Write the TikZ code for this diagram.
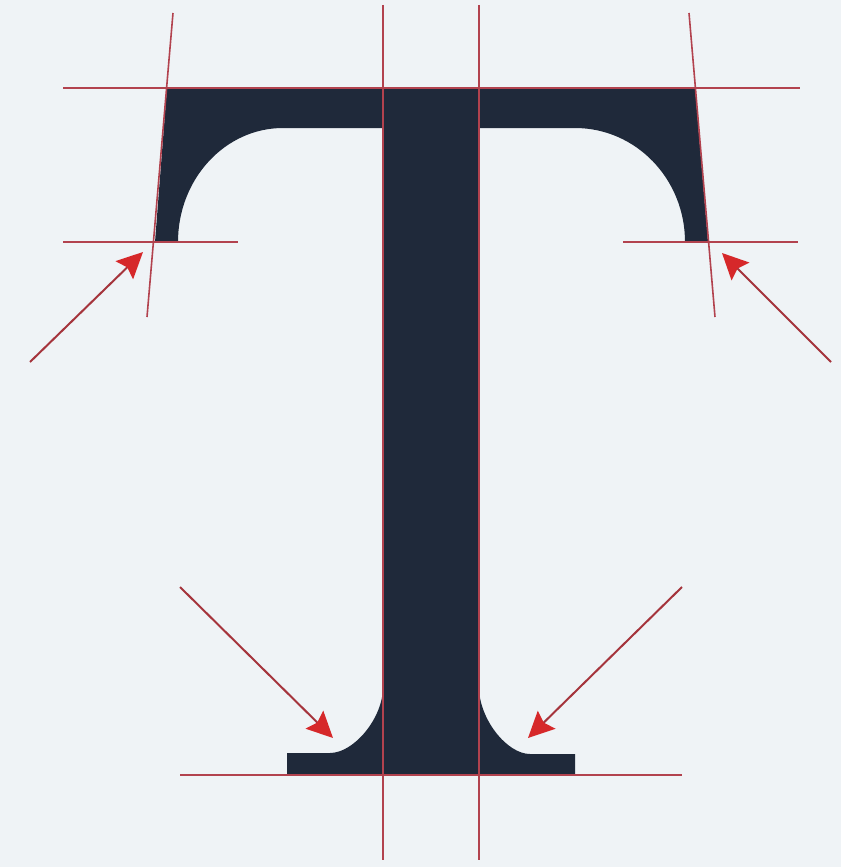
\documentclass[tikz,border=0pt]{standalone}
\usetikzlibrary{arrows.meta}
\definecolor{bgc}{RGB}{239,243,246}
\definecolor{glyph}{RGB}{31,41,58}
\definecolor{guide}{RGB}{178,66,78}
\definecolor{shaftc}{RGB}{165,52,60}
\definecolor{arrowc}{RGB}{214,40,42}
\begin{document}
\begin{tikzpicture}[x=1pt,y=-1pt,
  guideline/.style={draw=guide,line width=1.6pt},
  pointer/.style={draw=shaftc,line width=2pt,-{Stealth[length=26pt,width=25pt,inset=4pt,color=arrowc]}}]
\fill[bgc] (0,0) rectangle (841,867);
\useasboundingbox (0,0) rectangle (841,867);
% glyph T
\fill[glyph] (167,88) -- (695,88) -- (708,242) -- (685,242)
  .. controls (685,179) and (636,128) .. (575,128)
  -- (479,128) -- (479,687)
  .. controls (479,719) and (507,754) .. (530,754)
  -- (575,754) -- (575,775) -- (287,775) -- (287,753) -- (330,753)
  .. controls (354,753) and (383,718) .. (383,687)
  -- (383,128) -- (283,128)
  .. controls (225,128) and (178,179) .. (178,242)
  -- (155,242) -- cycle;
% guides
\coordinate (h1a) at (63,88);  \coordinate (h1b) at (800,88);
\coordinate (h2a) at (63,242); \coordinate (h2b) at (238,242);
\coordinate (h3a) at (623,242);\coordinate (h3b) at (798,242);
\coordinate (h4a) at (180,775);\coordinate (h4b) at (682,775);
\coordinate (v1a) at (173,13); \coordinate (v1b) at (147,317);
\coordinate (v2a) at (689,13); \coordinate (v2b) at (715,317);
\coordinate (v3a) at (383,5);  \coordinate (v3b) at (383,860);
\coordinate (v4a) at (479,5);  \coordinate (v4b) at (479,860);
\draw[guideline] (h1a) -- (h1b);
\draw[guideline] (h2a) -- (h2b);
\draw[guideline] (h3a) -- (h3b);
\draw[guideline] (h4a) -- (h4b);
\draw[guideline] (v1a) -- (v1b);
\draw[guideline] (v2a) -- (v2b);
\draw[guideline] (v3a) -- (v3b);
\draw[guideline] (v4a) -- (v4b);
% arrows
\coordinate (a1s) at (30,362);  \coordinate (a1t) at (143,252);
\coordinate (a2s) at (831,362); \coordinate (a2t) at (722,253);
\coordinate (a3s) at (180,587); \coordinate (a3t) at (333,738);
\coordinate (a4s) at (682,587); \coordinate (a4t) at (528,738);
\draw[pointer] (a1s) -- (a1t);
\draw[pointer] (a2s) -- (a2t);
\draw[pointer] (a3s) -- (a3t);
\draw[pointer] (a4s) -- (a4t);
\end{tikzpicture}
\end{document}
